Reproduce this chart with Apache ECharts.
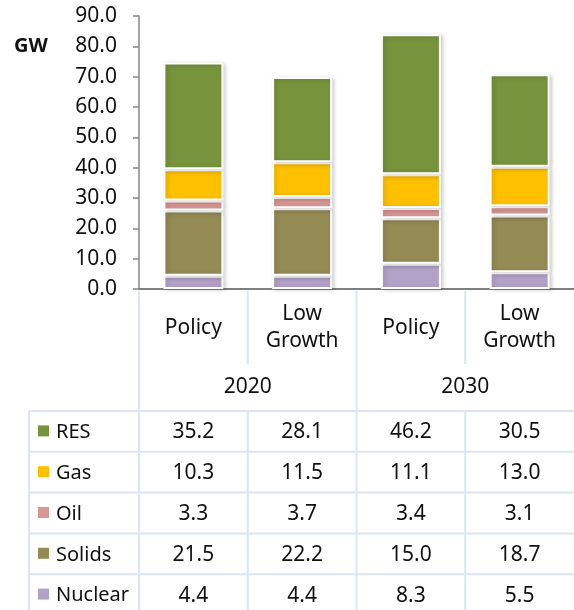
<!DOCTYPE html>
<html>
<head>
<meta charset="utf-8">
<style>
  html, body { margin: 0; padding: 0; background: #fff; }
  #chart { width: 574px; height: 610px; }
</style>
<script src="https://cdn.jsdelivr.net/npm/echarts@6/dist/echarts.min.js"></script>
</head>
<body>
<div id="chart"></div>
<script>
// categories
const scenarios = ['Policy', 'Low\nGrowth', 'Policy', 'Low\nGrowth'];
const years = ['2020', '2030'];

// GW by source (table order, top row first)
const sources = ['RES', 'Gas', 'Oil', 'Solids', 'Nuclear'];
const res = [35.2, 28.1, 46.2, 30.5];
const gas = [10.3, 11.5, 11.1, 13.0];
const oil = [3.3, 3.7, 3.4, 3.1];
const solids = [21.5, 22.2, 15.0, 18.7];
const nuclear = [4.4, 4.4, 8.3, 5.5];
const colors = ['#77933C', '#FFC000', '#D99694', '#948A54', '#B3A2C7'];

const font = "'Noto Sans', sans-serif";
const lineColor = '#DCE5F2';

const values = [res, gas, oil, solids, nuclear];

// stack from the bottom: Nuclear first
const series = [];
for (let i = sources.length - 1; i >= 0; i--) {
  series.push({
    name: sources[i],
    type: 'bar',
    stack: 'gw',
    xAxisIndex: 0,
    barWidth: 60,
    data: values[i],
    itemStyle: {
      color: colors[i],
      borderColor: '#fff',
      borderWidth: 2,
      shadowColor: 'rgba(0,0,0,0.18)',
      shadowBlur: 4,
      shadowOffsetX: 2,
      shadowOffsetY: 1
    }
  });
}

const option = {
  animation: false,
  textStyle: { fontFamily: font },
  grid: { left: 139, top: 16, height: 273, right: -19 },
  xAxis: [
    {
      type: 'category',
      data: scenarios,
      position: 'bottom',
      axisLine: { lineStyle: { color: '#7F7F7F', width: 2 } },
      axisTick: { show: false },
      axisLabel: {
        interval: 0,
        margin: 39,
        verticalAlign: 'middle',
        lineHeight: 27,
        fontSize: 21,
        color: '#111',
        fontFamily: font
      }
    },
    {
      type: 'category',
      data: years,
      position: 'bottom',
      axisLine: { show: false },
      axisTick: { show: false },
      axisLabel: {
        margin: 98,
        verticalAlign: 'middle',
        fontSize: 21,
        color: '#111',
        fontFamily: font
      }
    }
  ],
  yAxis: {
    type: 'value',
    min: 0,
    max: 90,
    interval: 10,
    axisLine: { show: true, lineStyle: { color: '#868686', width: 1.5 } },
    axisTick: { show: true, length: 6, lineStyle: { color: '#868686', width: 1.5 } },
    splitLine: { show: false },
    axisLabel: {
      margin: 22,
      fontSize: 21,
      color: '#111',
      fontFamily: font,
      formatter: v => v.toFixed(1)
    }
  },
  series: series
};

const chart = echarts.init(document.getElementById('chart'));
chart.setOption(option);

// table drawn from the category axis positions
const c0 = chart.convertToPixel({ xAxisIndex: 0 }, 0);
const c1 = chart.convertToPixel({ xAxisIndex: 0 }, 1);
const band = c1 - c0;
const centers = scenarios.map((s, i) => chart.convertToPixel({ xAxisIndex: 0 }, i));
const bounds = [0, 1, 2, 3, 4].map(i => c0 - band / 2 + i * band);
const axisY = chart.convertToPixel({ yAxisIndex: 0 }, 0);

const tableTop = 411;
const rowH = 40.8;
const tableLeft = 29;
const tableBottom = 640;

const g = [];
function vline(x, y1, y2) {
  g.push({ type: 'line', silent: true, shape: { x1: x, y1: y1, x2: x, y2: y2 },
    style: { stroke: lineColor, lineWidth: 2 } });
}
function hline(y, x1, x2) {
  g.push({ type: 'line', silent: true, shape: { x1: x1, y1: y, x2: x2, y2: y },
    style: { stroke: lineColor, lineWidth: 2 } });
}

// header dividers
vline(bounds[0], axisY + 2, tableBottom);
vline(bounds[1], axisY + 2, axisY + 75);
vline(bounds[3], axisY + 2, axisY + 75);
vline(bounds[2], axisY + 2, tableTop);
// table grid
vline(tableLeft, tableTop, tableBottom);
vline(bounds[1], tableTop, tableBottom);
vline(bounds[2], tableTop, tableBottom);
vline(bounds[3], tableTop, tableBottom);
for (let r = 0; r <= sources.length; r++) {
  hline(tableTop + r * rowH, tableLeft, bounds[4] + 10);
}

// rows
sources.forEach((name, r) => {
  const cy = tableTop + r * rowH + rowH / 2 + 1;
  g.push({ type: 'rect', silent: true, shape: { x: 38, y: cy - 7, width: 11, height: 11 },
    style: { fill: colors[r] } });
  g.push({ type: 'text', silent: true, x: 56, y: cy,
    style: { text: name, fontSize: 20, fontFamily: font, fill: '#111',
      align: 'left', verticalAlign: 'middle' } });
  values[r].forEach((v, i) => {
    g.push({ type: 'text', silent: true, x: centers[i], y: cy,
      style: { text: v.toFixed(1), fontSize: 21, fontFamily: font, fill: '#111',
        align: 'center', verticalAlign: 'middle' } });
  });
});

// unit label
g.push({ type: 'text', silent: true, x: 14, y: 46,
  style: { text: 'GW', fontSize: 20, fontWeight: 'bold', fontFamily: font, fill: '#111',
    align: 'left', verticalAlign: 'middle' } });

chart.setOption({ graphic: g });
</script>
</body>
</html>
